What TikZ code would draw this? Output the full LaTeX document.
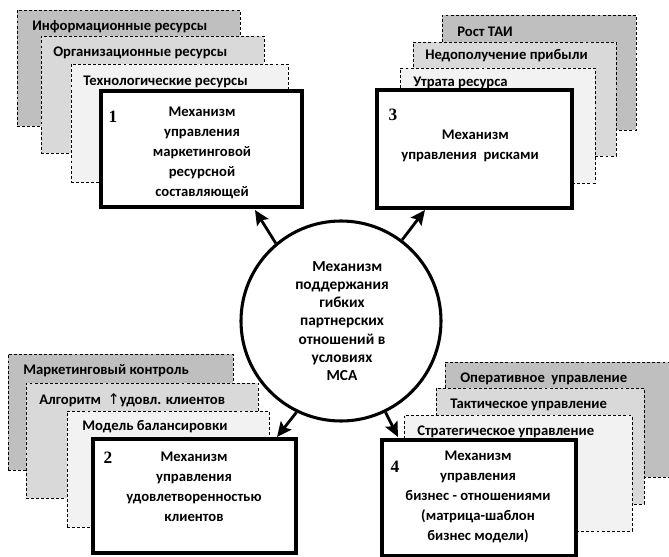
\documentclass[tikz,border=0pt]{standalone}
\usepackage{fontspec}
\setmainfont{Carlito}
\newfontfamily\numfont{Liberation Serif}
\newfontfamily\arrfont{DejaVu Sans}
\usetikzlibrary{fit,arrows.meta}
\begin{document}
\begin{tikzpicture}[x=0.75pt,y=-0.75pt,
  layer/.style={draw=black, dashed, dash pattern=on 2.2pt off 1.6pt, line width=0.6pt, inner sep=0pt},
  back/.style={layer, fill=black!25},
  mid/.style={layer, fill=black!15},
  front/.style={layer, fill=black!5},
  mainbox/.style={draw=black, line width=3pt, fill=white, inner sep=0pt},
  lbl/.style={anchor=west, font=\fontsize{11}{13}\selectfont\bfseries, inner sep=0pt},
  txt/.style={align=center, font=\fontsize{11}{15}\selectfont\bfseries, inner sep=0pt},
  num/.style={font=\fontsize{13}{15}\selectfont\numfont\bfseries, inner sep=0pt},
  arr/.style={line width=2.1pt, -{Stealth[length=11pt,width=10pt,inset=2pt]}}]
\useasboundingbox (0,0) rectangle (669,557);
% ---------- top left
\node[back, fit={(17,10) (240,126)}] (tl1) {};
\node[lbl] (tlt1) at (32,27) {Информационные ресурсы};
\node[mid, fit={(41,36) (264,153)}] (tl2) {};
\node[lbl] (tlt2) at (53,53) {Организационные ресурсы};
\node[front, fit={(71,64) (288,182)}] (tl3) {};
\node[lbl] (tlt3) at (83,82) {Технологические ресурсы};
\node[mainbox, fit={(101,91) (302,207)}] (b1) {};
\node[num] (n1) at (113,117) {1};
\node[txt] (t1) at (202,153) {Механизм\\управления\\маркетинговой\\ресурсной\\составляющей};
% ---------- top right
\node[back, fit={(442,15) (636,130)}] (tr1) {};
\node[lbl] (trt1) at (457,32) {Рост ТАИ};
\node[mid, fit={(413,42) (616,156)}] (tr2) {};
\node[lbl] (trt2) at (425,56) {Недополучение прибыли};
\node[front, fit={(400,68) (595,183)}] (tr3) {};
\node[lbl] (trt3) at (413,83) {Утрата ресурса};
\node[mainbox, fit={(377,90) (572,208)}] (b3) {};
\node[num] (n3) at (393,115) {3};
\node[txt] (t3) at (470,146) {\hspace*{8pt}Механизм\\управления\ \ рисками};
% ---------- bottom left
\node[back, fit={(8,354) (233,470)}] (bl1) {};
\node[lbl] (blt1) at (23,371) {Маркетинговый контроль};
\node[mid, fit={(26,383) (258,498)}] (bl2) {};
\node[lbl] (blt2) at (39,400) {Алгоритм\ \ {\arrfont\mdseries↑}удовл. клиентов};
\node[front, fit={(67,411) (269,527)}] (bl3) {};
\node[lbl] (blt3) at (82,427) {Модель балансировки};
\node[mainbox, fit={(93,439) (296,553)}] (b2) {};
\node[num] (n2) at (108,458) {2};
\node[txt] (t2) at (194,487) {Механизм\\управления\\удовлетворенностью\\клиентов};
% ---------- bottom right
\node[back, fit={(445,362) (670,477)}] (br1) {};
\node[lbl] (brt1) at (460,379) {Оперативное\ \ управление};
\node[mid, fit={(436,388) (644,504)}] (br2) {};
\node[lbl] (brt2) at (450,405) {Тактическое управление};
\node[front, fit={(404,415) (632,531)}] (br3) {};
\node[lbl] (brt3) at (417,432) {Стратегическое управление};
\node[mainbox, fit={(382,440) (576,556)}] (b4) {};
\node[num] (n4) at (395,467) {4};
\node[txt] (t4) at (478,497) {Механизм\\управления\\бизнес - отношениями\\(матрица-шаблон\\бизнес модели)};
% ---------- centre
\node[circle, draw=black, line width=2.3pt, fill=white, minimum size=150pt, inner sep=0pt] (c) at (341,321) {};
\node[txt, font=\fontsize{11.5}{13.6}\selectfont\bfseries] (ct) at (342,321) {\hspace*{8pt}Механизм\\поддержания\\гибких\\партнерских\\отношений в\\условиях\\МСА};
% ---------- arrows
\coordinate (e1) at (255,210);
\coordinate (e3) at (425,210);
\coordinate (e2) at (277,437);
\coordinate (e4) at (398,437);
\draw[arr] (c.130) -- (e1);
\draw[arr] (c.53) -- (e3);
\draw[arr] (c.-116) -- (e2);
\draw[arr] (c.-64) -- (e4);
\end{tikzpicture}
\end{document}
